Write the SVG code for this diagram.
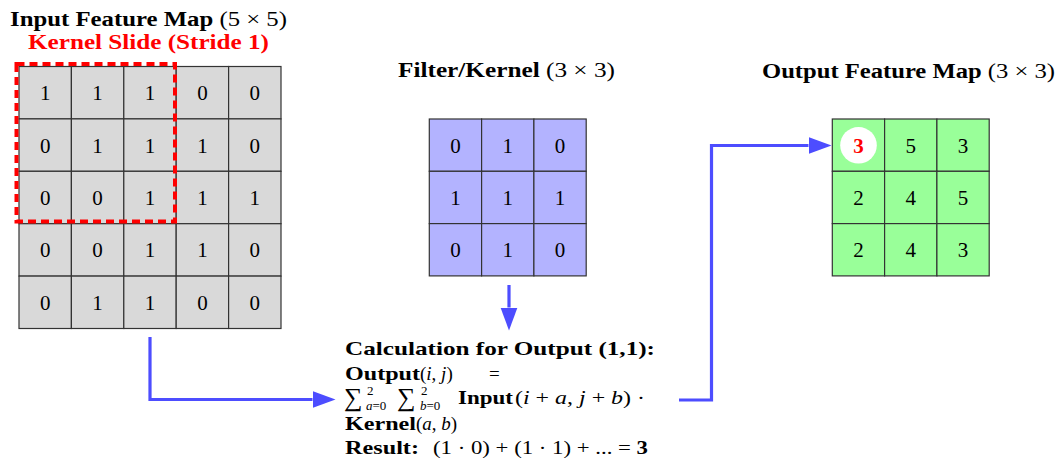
<svg xmlns="http://www.w3.org/2000/svg" width="1064" height="461" viewBox="0 0 1064 461">
<defs>
<style>
text{font-family:"Liberation Serif","DejaVu Serif",serif;fill:#000}
.t{font-size:20px}
.b{font-weight:bold}
.i{font-style:italic}
.n{font-size:21px;text-anchor:middle}
.c{font-size:19px}
.s{font-size:13px}
.sum{font-size:26px}
.gi rect{fill:#d9d9d9;stroke:#333;stroke-width:1.2}
.gf rect{fill:#b3b3ff;stroke:#333;stroke-width:1.2}
.go rect{fill:#99ff99;stroke:#333;stroke-width:1.2}
.conn{fill:none;stroke:#4d4dff;stroke-width:3.2}
</style>
<marker id="ah" markerUnits="userSpaceOnUse" markerWidth="24" markerHeight="18" refX="0" refY="8.5" orient="auto">
<path d="M0,0 L23,8.5 L0,17 z" fill="#4d4dff"/>
</marker>
</defs>
<rect width="1064" height="461" fill="#fff"/>

<g id="input-map">
<text class="t" x="10" y="26" textLength="277" lengthAdjust="spacingAndGlyphs"><tspan class="b">Input Feature Map</tspan> (5 × 5)</text>
<text class="t b" x="28" y="49" style="fill:#ff0000" textLength="241" lengthAdjust="spacingAndGlyphs">Kernel Slide (Stride 1)</text>
<g class="gi">
<rect x="19" y="66.5" width="52.4" height="52.4"/><rect x="71.4" y="66.5" width="52.4" height="52.4"/><rect x="123.8" y="66.5" width="52.4" height="52.4"/><rect x="176.2" y="66.5" width="52.4" height="52.4"/><rect x="228.6" y="66.5" width="52.4" height="52.4"/>
<rect x="19" y="118.9" width="52.4" height="52.4"/><rect x="71.4" y="118.9" width="52.4" height="52.4"/><rect x="123.8" y="118.9" width="52.4" height="52.4"/><rect x="176.2" y="118.9" width="52.4" height="52.4"/><rect x="228.6" y="118.9" width="52.4" height="52.4"/>
<rect x="19" y="171.3" width="52.4" height="52.4"/><rect x="71.4" y="171.3" width="52.4" height="52.4"/><rect x="123.8" y="171.3" width="52.4" height="52.4"/><rect x="176.2" y="171.3" width="52.4" height="52.4"/><rect x="228.6" y="171.3" width="52.4" height="52.4"/>
<rect x="19" y="223.7" width="52.4" height="52.4"/><rect x="71.4" y="223.7" width="52.4" height="52.4"/><rect x="123.8" y="223.7" width="52.4" height="52.4"/><rect x="176.2" y="223.7" width="52.4" height="52.4"/><rect x="228.6" y="223.7" width="52.4" height="52.4"/>
<rect x="19" y="276.1" width="52.4" height="52.4"/><rect x="71.4" y="276.1" width="52.4" height="52.4"/><rect x="123.8" y="276.1" width="52.4" height="52.4"/><rect x="176.2" y="276.1" width="52.4" height="52.4"/><rect x="228.6" y="276.1" width="52.4" height="52.4"/>
</g>
<text class="n" x="45.2" y="100.2">1</text><text class="n" x="97.6" y="100.2">1</text><text class="n" x="150" y="100.2">1</text><text class="n" x="202.4" y="100.2">0</text><text class="n" x="254.8" y="100.2">0</text>
<text class="n" x="45.2" y="152.6">0</text><text class="n" x="97.6" y="152.6">1</text><text class="n" x="150" y="152.6">1</text><text class="n" x="202.4" y="152.6">1</text><text class="n" x="254.8" y="152.6">0</text>
<text class="n" x="45.2" y="205">0</text><text class="n" x="97.6" y="205">0</text><text class="n" x="150" y="205">1</text><text class="n" x="202.4" y="205">1</text><text class="n" x="254.8" y="205">1</text>
<text class="n" x="45.2" y="257.4">0</text><text class="n" x="97.6" y="257.4">0</text><text class="n" x="150" y="257.4">1</text><text class="n" x="202.4" y="257.4">1</text><text class="n" x="254.8" y="257.4">0</text>
<text class="n" x="45.2" y="309.8">0</text><text class="n" x="97.6" y="309.8">1</text><text class="n" x="150" y="309.8">1</text><text class="n" x="202.4" y="309.8">0</text><text class="n" x="254.8" y="309.8">0</text>
</g>

<g id="kernel-slide">
<rect x="16.5" y="64" width="158.5" height="157.5" fill="none" stroke="#ff0000" stroke-width="4" stroke-dasharray="8 5"/>
</g>

<g id="filter">
<text class="t" x="398" y="77" textLength="217" lengthAdjust="spacingAndGlyphs"><tspan class="b">Filter/Kernel</tspan> (3 × 3)</text>
<g class="gf">
<rect x="429.3" y="119" width="52.3" height="52.3"/><rect x="481.6" y="119" width="52.3" height="52.3"/><rect x="533.9" y="119" width="52.3" height="52.3"/>
<rect x="429.3" y="171.3" width="52.3" height="52.3"/><rect x="481.6" y="171.3" width="52.3" height="52.3"/><rect x="533.9" y="171.3" width="52.3" height="52.3"/>
<rect x="429.3" y="223.6" width="52.3" height="52.3"/><rect x="481.6" y="223.6" width="52.3" height="52.3"/><rect x="533.9" y="223.6" width="52.3" height="52.3"/>
</g>
<text class="n" x="455.5" y="152.7">0</text><text class="n" x="507.8" y="152.7">1</text><text class="n" x="560.1" y="152.7">0</text>
<text class="n" x="455.5" y="205">1</text><text class="n" x="507.8" y="205">1</text><text class="n" x="560.1" y="205">1</text>
<text class="n" x="455.5" y="257.3">0</text><text class="n" x="507.8" y="257.3">1</text><text class="n" x="560.1" y="257.3">0</text>
</g>

<g id="output-map">
<text class="t" x="762" y="78" textLength="293" lengthAdjust="spacingAndGlyphs"><tspan class="b">Output Feature Map</tspan> (3 × 3)</text>
<g class="go">
<rect x="832.3" y="119" width="52.3" height="52.3"/><rect x="884.6" y="119" width="52.3" height="52.3"/><rect x="936.9" y="119" width="52.3" height="52.3"/>
<rect x="832.3" y="171.3" width="52.3" height="52.3"/><rect x="884.6" y="171.3" width="52.3" height="52.3"/><rect x="936.9" y="171.3" width="52.3" height="52.3"/>
<rect x="832.3" y="223.6" width="52.3" height="52.3"/><rect x="884.6" y="223.6" width="52.3" height="52.3"/><rect x="936.9" y="223.6" width="52.3" height="52.3"/>
</g>
<circle cx="858.5" cy="145.3" r="18.3" fill="#fff"/>
<text class="n b" x="858.5" y="152.7" style="fill:#ff0000">3</text><text class="n" x="910.8" y="152.7">5</text><text class="n" x="963.1" y="152.7">3</text>
<text class="n" x="858.5" y="205">2</text><text class="n" x="910.8" y="205">4</text><text class="n" x="963.1" y="205">5</text>
<text class="n" x="858.5" y="257.3">2</text><text class="n" x="910.8" y="257.3">4</text><text class="n" x="963.1" y="257.3">3</text>
</g>

<g id="calculation">
<text class="c b" x="345" y="355" textLength="310" lengthAdjust="spacingAndGlyphs">Calculation for Output (1,1):</text>
<text class="c b" x="345" y="380" textLength="75" lengthAdjust="spacingAndGlyphs">Output</text>
<text class="c" x="420" y="380">(<tspan class="i">i</tspan>, <tspan class="i">j</tspan>)</text>
<text class="c" x="489" y="380">=</text>
<text class="sum" x="344" y="406">∑</text>
<text class="s" x="367" y="395">2</text>
<text class="s" x="366" y="410"><tspan class="i">a</tspan>=0</text>
<text class="sum" x="397" y="406">∑</text>
<text class="s" x="421" y="395">2</text>
<text class="s" x="420" y="410"><tspan class="i">b</tspan>=0</text>
<text class="c b" x="458" y="404" textLength="55" lengthAdjust="spacingAndGlyphs">Input</text>
<text class="c" x="515" y="404" textLength="130" lengthAdjust="spacingAndGlyphs">(<tspan class="i">i</tspan> + <tspan class="i">a</tspan>, <tspan class="i">j</tspan> + <tspan class="i">b</tspan>) ·</text>
<text class="c b" x="345" y="430" textLength="71" lengthAdjust="spacingAndGlyphs">Kernel</text>
<text class="c" x="416" y="430">(<tspan class="i">a</tspan>, <tspan class="i">b</tspan>)</text>
<text class="c b" x="345" y="454" textLength="74" lengthAdjust="spacingAndGlyphs">Result:</text>
<text class="c" x="433" y="454" textLength="215" lengthAdjust="spacingAndGlyphs">(1 · 0) + (1 · 1) + ... = <tspan class="b">3</tspan></text>
</g>

<g id="connectors">
<path class="conn" d="M150,337 V399.5 H312.5" marker-end="url(#ah)"/>
<path class="conn" d="M509,285 V307.5" marker-end="url(#ah)"/>
<path class="conn" d="M679,400 H711.5 V145.5 H808.5" marker-end="url(#ah)"/>
</g>
</svg>
